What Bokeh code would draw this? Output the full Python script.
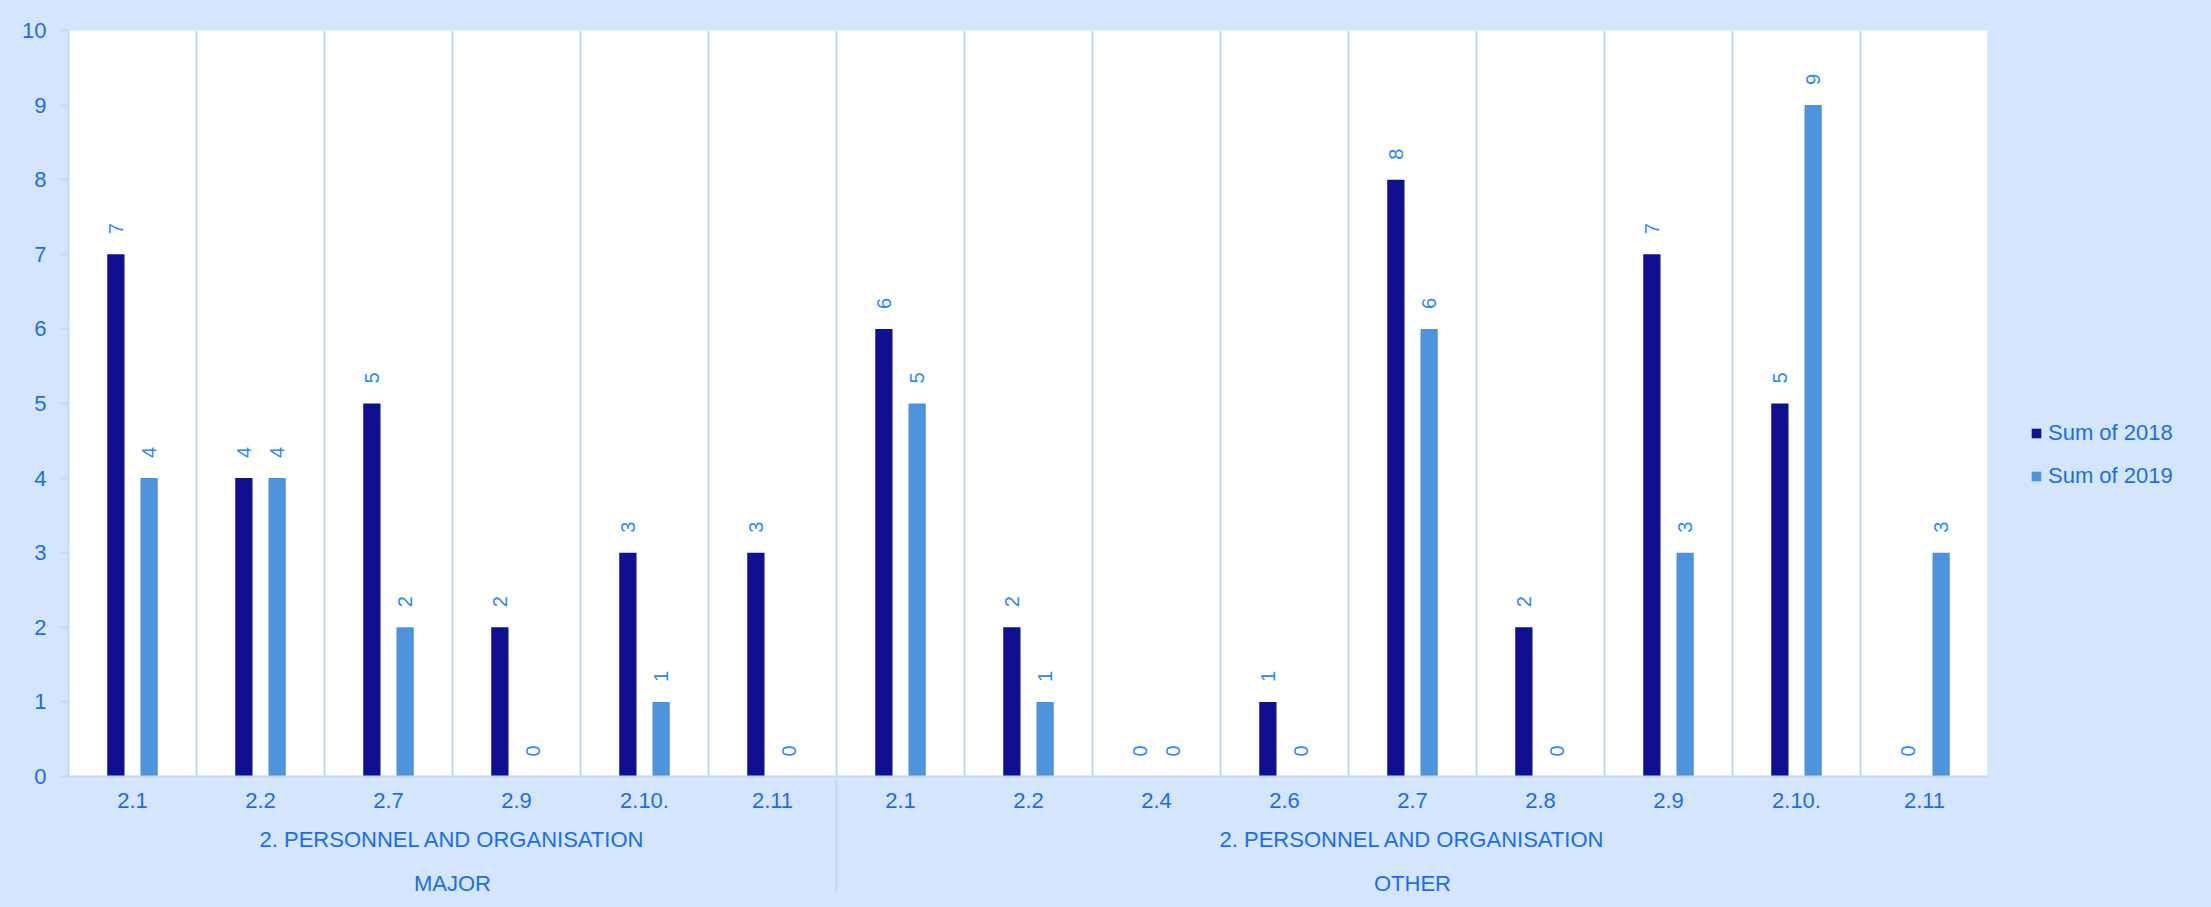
from bokeh.plotting import figure
from bokeh.layouts import row
from bokeh.models import FactorRange, Range1d, ColumnDataSource, FixedTicker, Legend
from bokeh.transform import dodge
from bokeh.core.properties import value
from bokeh.embed import file_html
from bokeh.resources import INLINE
import math

groups = ["MAJOR"] * 6 + ["OTHER"] * 9
subgroup = "2. PERSONNEL AND ORGANISATION"
codes = ["2.1", "2.2", "2.7", "2.9", "2.10.", "2.11",
         "2.1", "2.2", "2.4", "2.6", "2.7", "2.8", "2.9", "2.10.", "2.11"]
sum_2018 = [7, 4, 5, 2, 3, 3, 6, 2, 0, 1, 8, 2, 7, 5, 0]
sum_2019 = [4, 4, 2, 0, 1, 0, 5, 1, 0, 0, 6, 0, 3, 9, 3]
y_ticks = [0, 1, 2, 3, 4, 5, 6, 7, 8, 9, 10]
series_names = ["Sum of 2018", "Sum of 2019"]

BG = "#d4e5fd"
LINE = "#bfd7fb"
TXT = "#1a6ee8"
VAL = "#2d87f5"
DARK = "#10118e"
LIGHT = "#4d92da"
FONT = "Liberation Sans"

factors = [(g, subgroup, c) for g, c in zip(groups, codes)]
src = ColumnDataSource(dict(
    x=factors, y18=sum_2018, y19=sum_2019,
    t18=[str(v) for v in sum_2018], t19=[str(v) for v in sum_2019],
    zero=[0] * len(factors), top=[10] * len(factors),
))

p = figure(
    width=1988, height=907,
    x_range=FactorRange(*factors, group_padding=0, subgroup_padding=0, range_padding=0),
    y_range=Range1d(0, 10),
    output_backend="svg", toolbar_location=None,
    min_border_left=68, min_border_right=0, min_border_top=30, min_border_bottom=131,
)
p.background_fill_color = "white"
p.border_fill_color = BG
p.outline_line_color = None

# category boundaries
p.segment(x0=dodge("x", 0.5, range=p.x_range), y0="zero",
          x1=dodge("x", 0.5, range=p.x_range), y1="top",
          source=src, line_color=LINE, line_width=2)

p.vbar(x=dodge("x", -0.13, range=p.x_range), top="y18", width=0.135, source=src,
       fill_color=DARK, line_color=None)
p.vbar(x=dodge("x", 0.13, range=p.x_range), top="y19", width=0.135, source=src,
       fill_color=LIGHT, line_color=None)

for off, col in [(-0.13, "y18"), (0.13, "y19")]:
    p.text(x=dodge("x", off, range=p.x_range), y=col, text="t" + col[1:],
           source=src, angle=math.pi / 2, text_align="left", text_baseline="middle",
           y_offset=-20, text_font=value(FONT), text_font_size="20px", text_color=VAL)

p.xgrid.grid_line_color = None
p.ygrid.grid_line_color = None

ya = p.yaxis[0]
ya.ticker = FixedTicker(ticks=y_ticks)
ya.axis_line_color = LINE
ya.axis_line_width = 2
ya.major_tick_line_color = LINE
ya.major_tick_line_width = 2
ya.major_tick_in = 0
ya.major_tick_out = 8
ya.minor_tick_line_color = None
ya.major_label_standoff = 14
ya.major_label_text_font = FONT
ya.major_label_text_font_size = "22px"
ya.major_label_text_color = TXT

xa = p.xaxis[0]
xa.axis_line_color = LINE
xa.axis_line_width = 2
xa.major_tick_line_color = None
xa.major_tick_in = 0
xa.major_tick_out = 0
xa.major_label_standoff = 16
xa.major_label_text_font = FONT
xa.major_label_text_font_size = "22px"
xa.major_label_text_color = TXT
xa.subgroup_text_font = FONT
xa.subgroup_text_font_size = "22px"
xa.subgroup_text_font_style = "normal"
xa.subgroup_text_color = TXT
xa.group_text_font = FONT
xa.group_text_font_size = "22px"
xa.group_text_font_style = "normal"
xa.group_text_color = TXT
xa.separator_line_color = LINE
xa.separator_line_width = 2

# legend panel (legend keys only; zero-size placeholder bars)
p2 = figure(width=223, height=907, x_range=Range1d(0, 1), y_range=Range1d(0, 1),
            output_backend="svg", toolbar_location=None, min_border=0)
p2.background_fill_color = BG
p2.border_fill_color = BG
p2.outline_line_color = None
p2.axis.visible = False
p2.grid.grid_line_color = None
key_src = ColumnDataSource(dict(x=[0], top=[0]))
k18 = p2.vbar(x="x", top="top", width=0, source=key_src, fill_color=DARK, line_color=None)
k19 = p2.vbar(x="x", top="top", width=0, source=key_src, fill_color=LIGHT, line_color=None)

lg = Legend(items=[(series_names[0], [k18]), (series_names[1], [k19])])
lg.location = (42, 287)
lg.background_fill_alpha = 0
lg.border_line_color = None
lg.glyph_width = 12
lg.glyph_height = 12
lg.label_standoff = 6
lg.label_text_font = FONT
lg.label_text_font_size = "22px"
lg.label_text_color = TXT
lg.spacing = 17
lg.padding = 0
lg.margin = 0
p2.add_layout(lg, "center")

layout = row(p, p2, spacing=0)
layout.styles = {"background-color": BG}

open("out.html", "w").write(file_html(layout, INLINE))
